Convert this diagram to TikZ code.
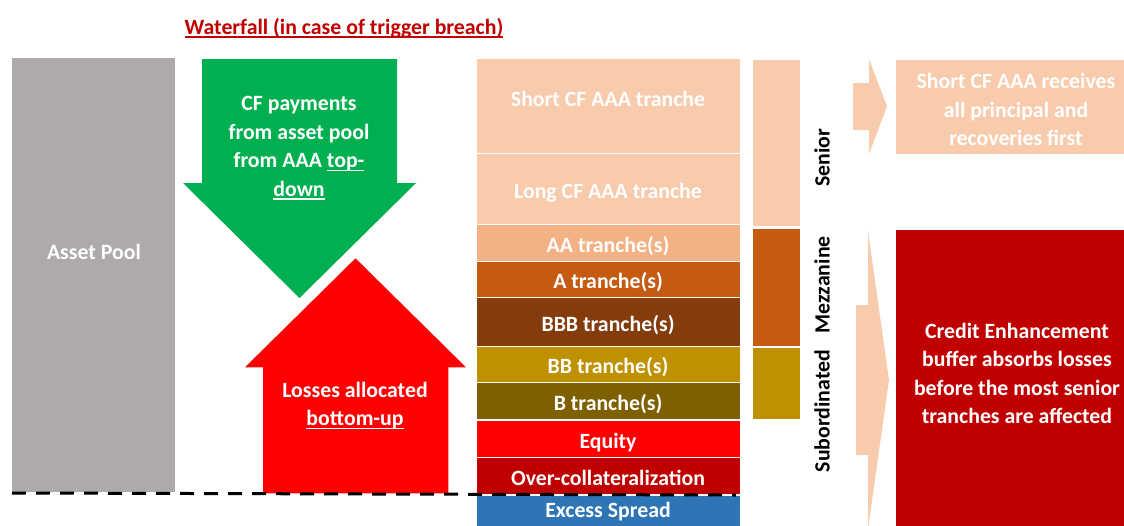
\documentclass[tikz,border=0pt]{standalone}
\usepackage{fontspec}
\setmainfont{Carlito}

\newsavebox{\ulbox}
\newcommand{\uln}[1]{\sbox{\ulbox}{#1}\rlap{\rule[-3.5pt]{\wd\ulbox}{1.3pt}}\usebox{\ulbox}}

\definecolor{poolgray}{HTML}{AEAAAA}
\definecolor{cfgreen}{HTML}{00B050}
\definecolor{peach}{HTML}{F8CBAD}
\definecolor{tan}{HTML}{F4B183}
\definecolor{rust}{HTML}{C55A11}
\definecolor{brown}{HTML}{843C0C}
\definecolor{gold}{HTML}{BF9000}
\definecolor{olive}{HTML}{7F6000}
\definecolor{lossred}{HTML}{FF0000}
\definecolor{darkred}{HTML}{C00000}
\definecolor{steel}{HTML}{2E75B6}

\begin{document}
\begin{tikzpicture}[x=1pt,y=-1pt]
\tikzstyle{txt}=[font=\fontsize{21.8}{28.5}\selectfont\bfseries,text=white,align=center,inner sep=0]
\tikzstyle{band}=[txt,draw=white,line width=1pt,minimum width=264,text height=19pt,text depth=0pt]
\tikzstyle{side}=[draw=white,line width=1pt,minimum width=48,inner sep=0]
\tikzstyle{lbl}=[txt,text=black,rotate=90]

\useasboundingbox (0,0) rectangle (1124,525);
\clip (0,0) rectangle (1124,525);

\node[txt,text=darkred] (title) at (344,28) {\uln{Waterfall (in case of trigger breach)}};

\node[fill=poolgray,minimum width=163,minimum height=434,inner sep=0] (pool) at (93.5,275) {};
\node[txt] (poollbl) at (94,252) {Asset Pool};

\fill[cfgreen] (202,59) -- (397,59) -- (397,183) -- (416,183) -- (299.5,298) -- (183,183) -- (202,183) -- cycle;
\node[txt] (cf) at (299,148) {CF payments\\from asset pool\\from AAA \uln{top-}\\\uln{down}};

\filldraw[fill=lossred,draw=white,line width=1.5pt] (262,494) -- (262,368) -- (243,368) -- (355.5,257) -- (468,368) -- (449,368) -- (449,494) -- cycle;
\node[txt] (loss) at (355,405.5) {Losses allocated\\\uln{bottom-up}};

\node[band,fill=peach,minimum height=95] (shortaaa) at (608,105.5) {};
\node[txt] (shortlbl) at (608,98.5) {Short CF AAA tranche};
\node[band,fill=peach,minimum height=71] (longaaa) at (608,188.5) {Long CF AAA tranche};
\node[band,fill=tan,minimum height=37] (aa) at (608,242.5) {AA tranche(s)};
\node[band,fill=rust,minimum height=36] (a) at (608,279) {A tranche(s)};
\node[band,fill=brown,minimum height=49] (bbb) at (608,321.5) {BBB tranche(s)};
\node[band,fill=gold,minimum height=36] (bb) at (608,364) {BB tranche(s)};
\node[band,fill=olive,minimum height=37] (b) at (608,400.5) {B tranche(s)};
\node[band,fill=lossred,minimum height=37] (eq) at (608,438.5) {Equity};
\node[band,fill=darkred,minimum height=37] (oc) at (608,475.5) {Over-collateralization};
\node[band,fill=steel,minimum height=46] (xs) at (608,518) {};
\node[txt] (xslbl) at (608,512) {Excess Spread};

\node[side,fill=peach,minimum height=167] (senior) at (776,142.5) {};
\node[side,fill=rust,minimum height=118] (mezz) at (776,287) {};
\node[side,fill=gold,minimum height=72] (sub) at (776,383) {};
\node[lbl] (seniorlbl) at (822,158) {Senior};
\node[lbl] (mezzlbl) at (822,285) {Mezzanine};
\node[lbl] (sublbl) at (822,411) {Subordinated};

\fill[peach] (853,83) -- (869,83) -- (869,59) -- (887,106.5) -- (869,154) -- (869,130) -- (853,130) -- cycle;
\fill[peach] (856,305) -- (868,305) -- (868,231) -- (889,380) -- (868,529) -- (868,455) -- (856,455) -- cycle;

\node[fill=peach,minimum width=242,minimum height=94,inner sep=0] (first) at (1017,107) {};
\node[txt] (firstlbl) at (1016,109.5) {Short CF AAA receives\\all principal and\\recoveries first};
\node[fill=darkred,minimum width=242,minimum height=300,inner sep=0] (ce) at (1017,380) {};
\node[txt] (celbl) at (1017,373.5) {Credit Enhancement\\buffer absorbs losses\\before the most senior\\tranches are affected};

\coordinate (d1) at (12,493);
\coordinate (d2) at (736,495);
\draw[line width=3pt,dash pattern=on 14pt off 10pt] (d1) -- (d2);
\end{tikzpicture}
\end{document}
